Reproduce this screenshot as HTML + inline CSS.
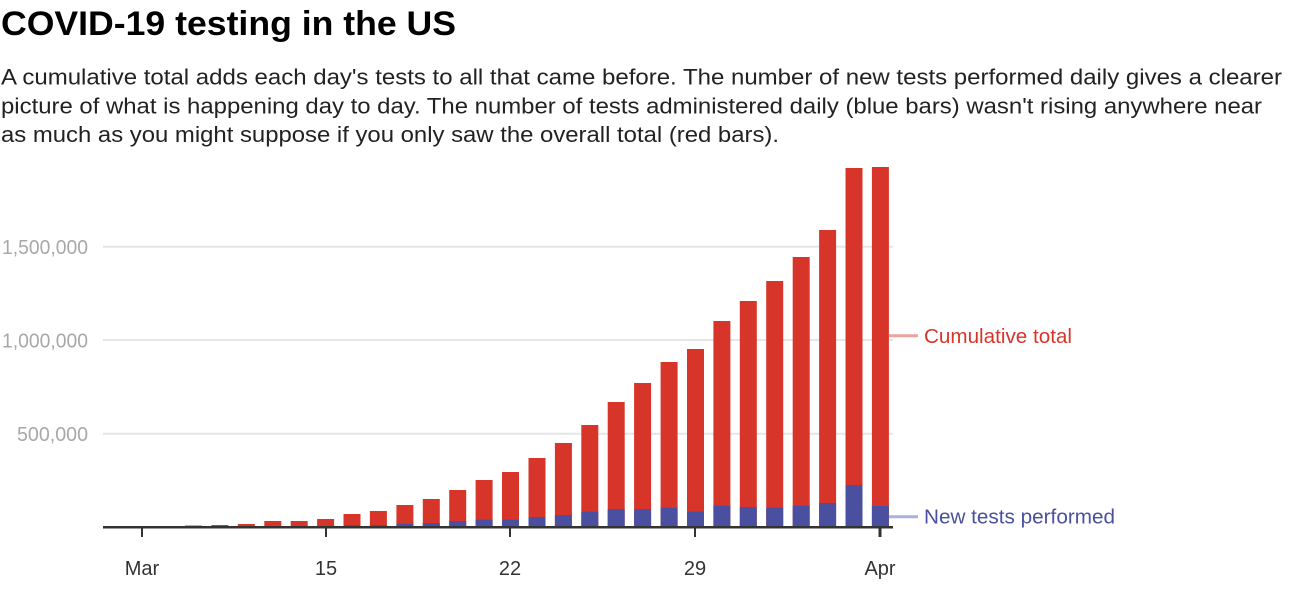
<!DOCTYPE html>
<html><head><meta charset="utf-8"><style>
html,body{margin:0;padding:0;background:#fff;}
svg{display:block;}
text{font-family:"Liberation Sans",Arial,sans-serif;}
</style></head><body>
<svg width="1292" height="589" viewBox="0 0 1292 589" xmlns="http://www.w3.org/2000/svg">
<text x="1" y="35" font-size="34" font-weight="bold" fill="#000" textLength="455" lengthAdjust="spacingAndGlyphs">COVID-19 testing in the US</text>
<g font-size="22" fill="#222">
<text x="1" y="84.3" textLength="1281" lengthAdjust="spacingAndGlyphs">A cumulative total adds each day's tests to all that came before. The number of new tests performed daily gives a clearer</text>
<text x="1" y="113.3" textLength="1261" lengthAdjust="spacingAndGlyphs">picture of what is happening day to day. The number of tests administered daily (blue bars) wasn't rising anywhere near</text>
<text x="1" y="141.8" textLength="778" lengthAdjust="spacingAndGlyphs">as much as you might suppose if you only saw the overall total (red bars).</text>
</g>
<g stroke="#e6e6e6" stroke-width="2">
<line x1="103" y1="246.7" x2="893" y2="246.7"/>
<line x1="103" y1="340" x2="893" y2="340"/>
<line x1="103" y1="433.7" x2="893" y2="433.7"/>
</g>
<g font-size="20" fill="#a8a8a8">
<text x="2" y="254.2" textLength="86" lengthAdjust="spacingAndGlyphs">1,500,000</text>
<text x="2" y="347.4" textLength="86" lengthAdjust="spacingAndGlyphs">1,000,000</text>
<text x="17" y="441" textLength="71" lengthAdjust="spacingAndGlyphs">500,000</text>
</g>
<g fill="#d8352a">
<rect x="185" y="525.5" width="17" height="2"/>
<rect x="211.4" y="525" width="17" height="2.5"/>
<rect x="237.8" y="524" width="17" height="3.5"/>
<rect x="264.3" y="521" width="17" height="6.5"/>
<rect x="290.7" y="521" width="17" height="6.5"/>
<rect x="317.1" y="519" width="17" height="8.5"/>
<rect x="343.5" y="514" width="17" height="13.5"/>
<rect x="369.9" y="511" width="17" height="16.5"/>
<rect x="396.4" y="505" width="17" height="22.5"/>
<rect x="422.8" y="499" width="17" height="28.5"/>
<rect x="449.2" y="490" width="17" height="37.5"/>
<rect x="475.6" y="480" width="17" height="47.5"/>
<rect x="502" y="472" width="17" height="55.5"/>
<rect x="528.5" y="458" width="17" height="69.5"/>
<rect x="554.9" y="443" width="17" height="84.5"/>
<rect x="581.3" y="425" width="17" height="102.5"/>
<rect x="607.7" y="402" width="17" height="125.5"/>
<rect x="634.1" y="383" width="17" height="144.5"/>
<rect x="660.6" y="362" width="17" height="165.5"/>
<rect x="687" y="349" width="17" height="178.5"/>
<rect x="713.4" y="321" width="17" height="206.5"/>
<rect x="739.8" y="301" width="17" height="226.5"/>
<rect x="766.2" y="281" width="17" height="246.5"/>
<rect x="792.7" y="257" width="17" height="270.5"/>
<rect x="819.1" y="230" width="17" height="297.5"/>
<rect x="845.5" y="168" width="17" height="359.5"/>
<rect x="871.9" y="167" width="17" height="360.5"/>
</g>
<g fill="#4a509f">
<rect x="343.5" y="525" width="17" height="2.5"/>
<rect x="369.9" y="525" width="17" height="2.5"/>
<rect x="396.4" y="523.7" width="17" height="3.8"/>
<rect x="422.8" y="523" width="17" height="4.5"/>
<rect x="449.2" y="521" width="17" height="6.5"/>
<rect x="475.6" y="519.7" width="17" height="7.8"/>
<rect x="502" y="519.7" width="17" height="7.8"/>
<rect x="528.5" y="517" width="17" height="10.5"/>
<rect x="554.9" y="515" width="17" height="12.5"/>
<rect x="581.3" y="511.7" width="17" height="15.8"/>
<rect x="607.7" y="509" width="17" height="18.5"/>
<rect x="634.1" y="509" width="17" height="18.5"/>
<rect x="660.6" y="507.7" width="17" height="19.8"/>
<rect x="687" y="511.7" width="17" height="15.8"/>
<rect x="713.4" y="505.7" width="17" height="21.8"/>
<rect x="739.8" y="507" width="17" height="20.5"/>
<rect x="766.2" y="507.7" width="17" height="19.8"/>
<rect x="792.7" y="505.7" width="17" height="21.8"/>
<rect x="819.1" y="503" width="17" height="24.5"/>
<rect x="845.5" y="485" width="17" height="42.5"/>
<rect x="871.9" y="506" width="17" height="21.5"/>
</g>
<line x1="103" y1="527.3" x2="893" y2="527.3" stroke="#333" stroke-width="2.5"/>
<g stroke="#333" stroke-width="2">
<line x1="142" y1="527" x2="142" y2="537"/>
<line x1="326" y1="527" x2="326" y2="537"/>
<line x1="510" y1="527" x2="510" y2="537"/>
<line x1="695" y1="527" x2="695" y2="537"/>
<line x1="880" y1="527" x2="880" y2="537" stroke-width="3"/>
</g>
<g font-size="20" fill="#333" text-anchor="middle">
<text x="142" y="575">Mar</text>
<text x="326" y="575">15</text>
<text x="510" y="575">22</text>
<text x="695" y="575">29</text>
<text x="880" y="575">Apr</text>
</g>
<line x1="889" y1="335.7" x2="918" y2="335.7" stroke="#eca29d" stroke-width="3"/>
<line x1="889" y1="516.7" x2="918" y2="516.7" stroke="#aab0d6" stroke-width="3"/>
<text x="924" y="343" font-size="20" fill="#d8352a" textLength="148" lengthAdjust="spacingAndGlyphs">Cumulative total</text>
<text x="924" y="523.5" font-size="20" fill="#4a509f" textLength="191" lengthAdjust="spacingAndGlyphs">New tests performed</text>
</svg>
</body></html>
